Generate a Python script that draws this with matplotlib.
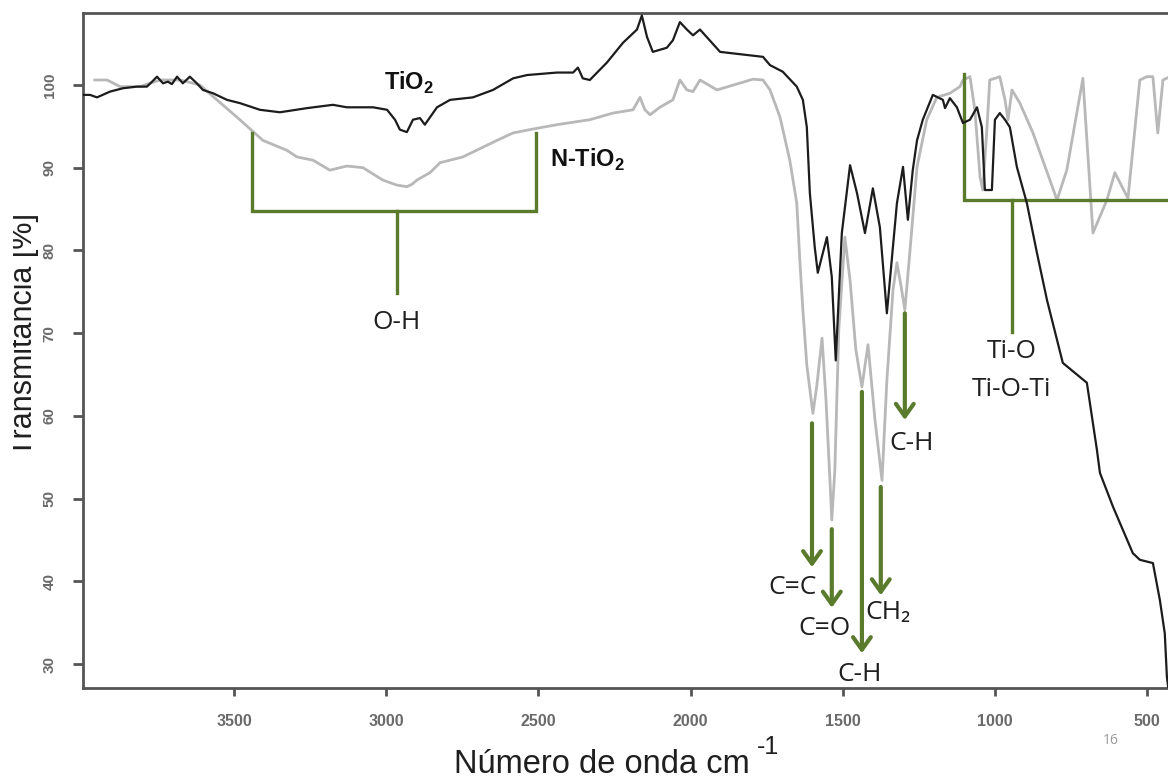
import matplotlib
matplotlib.use("Agg")
import matplotlib.pyplot as plt
from matplotlib import font_manager
from matplotlib.transforms import Bbox, TransformedBbox

# FTIR spectra: wavenumber (cm-1) vs transmittance (%)
tio2_wn = [3996, 3973, 3950, 3907, 3865, 3819, 3786, 3769, 3753, 3733, 3717, 3704,
           3687, 3668, 3645, 3622, 3602, 3569, 3523, 3480, 3415, 3349, 3260, 3175,
           3129, 3086, 3043, 2997, 2971, 2955, 2932, 2912, 2889, 2873, 2833, 2790,
           2715, 2649, 2583, 2537, 2439, 2386, 2370, 2354, 2331, 2275, 2222, 2176,
           2160, 2143, 2124, 2078, 2058, 2035, 2012, 1992, 1969, 1903, 1762, 1739,
           1697, 1651, 1631, 1618, 1608, 1592, 1582, 1552, 1536, 1523, 1503, 1476,
           1453, 1427, 1401, 1378, 1355, 1322, 1302, 1286, 1270, 1256, 1237, 1204,
           1171, 1164, 1148, 1125, 1105, 1082, 1059, 1043, 1033, 1010, 1000, 984,
           967, 951, 928, 895, 862, 829, 777, 698, 665, 655, 612, 547, 524, 481,
           458, 442, 435, 425]
tio2_t = [98.8, 98.8, 98.5, 99.2, 99.6, 99.8, 99.8, 100.4, 101.0, 100.2, 100.4, 100.1,
          101.0, 100.2, 101.0, 100.2, 99.4, 99.0, 98.2, 97.8, 97.0, 96.7, 97.2, 97.6,
          97.3, 97.3, 97.3, 97.0, 95.8, 94.6, 94.3, 95.8, 96.0, 95.2, 97.3, 98.2,
          98.5, 99.4, 100.8, 101.2, 101.5, 101.5, 102.1, 100.8, 100.6, 102.7, 105.1, 106.7,
          108.4, 105.8, 104.0, 104.5, 105.4, 107.6, 106.7, 106.0, 106.7, 104.0, 103.4, 102.4,
          101.6, 99.8, 98.2, 94.9, 86.9, 80.4, 77.3, 81.6, 76.8, 66.7, 82.1, 90.3,
          86.9, 82.1, 87.5, 82.8, 72.4, 85.7, 90.1, 83.7, 89.7, 93.3, 95.8, 98.8,
          98.2, 97.2, 98.4, 97.3, 95.4, 95.8, 97.3, 94.9, 87.3, 87.3, 95.8, 96.6,
          95.8, 94.9, 90.1, 85.7, 79.7, 74.0, 66.4, 64.0, 55.9, 53.1, 49.0, 43.4, 42.6, 42.2,
          37.7, 33.7, 28.4, 25.6]

ntio2_wn = [3957, 3917, 3874, 3809, 3743, 3677, 3612, 3556, 3490, 3405, 3326, 3293,
            3240, 3185, 3129, 3076, 3011, 2965, 2932, 2915, 2899, 2856, 2823, 2748,
            2636, 2583, 2528, 2439, 2331, 2255, 2189, 2166, 2150, 2133, 2101, 2058,
            2035, 2012, 1992, 1969, 1913, 1795, 1762, 1739, 1706, 1674, 1651, 1641,
            1631, 1618, 1598, 1585, 1568, 1555, 1542, 1536, 1526, 1513, 1493, 1476,
            1457, 1437, 1417, 1394, 1371, 1355, 1335, 1322, 1309, 1296, 1279, 1256,
            1224, 1191, 1148, 1115, 1105, 1082, 1066, 1049, 1040, 1026, 1017, 984,
            967, 957, 944, 918, 875, 796, 764, 711, 678, 632, 606, 563, 524, 501,
            481, 465, 448, 425]
ntio2_t = [100.6, 100.6, 99.8, 99.8, 100.6, 100.6, 100.0, 98.2, 96.1, 93.3, 92.1, 91.3,
           90.9, 89.7, 90.2, 90.0, 88.5, 87.9, 87.7, 88.0, 88.5, 89.4, 90.6, 91.3,
           93.3, 94.2, 94.6, 95.2, 95.8, 96.6, 97.0, 98.5, 97.0, 96.4, 97.3, 98.2,
           100.6, 99.4, 99.2, 100.6, 99.4, 100.7, 100.6, 99.4, 96.1, 90.9, 85.7, 78.8,
           72.8, 66.1, 60.3, 63.7, 69.4, 61.9, 52.2, 47.4, 53.4, 70.4, 81.6, 76.4,
           68.0, 63.5, 68.6, 59.5, 52.2, 64.3, 75.2, 78.5, 75.8, 72.8, 80.0, 90.1,
           95.8, 98.5, 99.0, 99.8, 100.6, 101.0, 97.0, 88.9, 87.3, 94.9, 100.6, 101.0,
           98.2, 95.8, 99.4, 97.8, 94.2, 86.1, 89.7, 100.8, 82.1, 86.1, 89.4, 86.3, 100.6, 101.0,
           101.0, 94.2, 100.6, 101.0]

x_ticks = [3500, 3000, 2500, 2000, 1500, 1000, 500]
y_ticks = [30, 40, 50, 60, 70, 80, 90, 100]

# assigned bands: (label, wavenumber, arrow start %T, arrow end %T, label x, label %T)
bands = [
    ("C=C", 1601, 59.1, 41.7, 1664, 39.3),
    ("C=O", 1536, 46.3, 36.8, 1559, 34.3),
    ("C-H", 1437, 62.9, 31.3, 1444, 28.7),
    ("CH\u2082", 1375, 51.4, 38.3, 1352, 36.2),
    ("C-H", 1296, 72.4, 59.5, 1273, 56.7),
]

green = "#5a7a2c"
axis_grey = "#555555"

names = {f.name for f in font_manager.fontManager.ttflist}
has_narrow = "Liberation Sans Narrow" in names
narrow = "Liberation Sans Narrow" if has_narrow else "Liberation Sans"
label_font = ["Open Sans", "DejaVu Sans"]

fig = plt.figure(figsize=(11.68, 7.78), dpi=100)
W, H = 1168, 778
ax = fig.add_axes([83 / W, (H - 688) / H, (1180 - 83) / W, (688 - 13) / H])

ax.plot(ntio2_wn, ntio2_t, color="#b8b8b8", lw=2.0, zorder=2)
ax.plot(tio2_wn, tio2_t, color="#1c1c1c", lw=1.6, zorder=3)

ax.set_xlim(3996, 392)
ax.set_ylim(27.1, 108.7)
ax.set_xticks(x_ticks)
ax.set_yticks(y_ticks)
ax.set_xticklabels([str(v) for v in x_ticks], family="Liberation Sans",
                   fontsize=11.5, fontweight="bold", color="#6a6a6a")
ax.set_yticklabels([str(v) for v in y_ticks], family="Liberation Sans",
                   fontsize=11, fontweight="bold", color="#6a6a6a",
                   rotation=90, va="center")
ax.tick_params(axis="x", length=6, width=2, color=axis_grey, pad=13)
ax.tick_params(axis="y", length=7, width=2, color=axis_grey, pad=12)
for side in ["left", "bottom", "top"]:
    ax.spines[side].set_color(axis_grey)
    ax.spines[side].set_linewidth(2)
ax.spines["right"].set_visible(False)

# sample names
ax.text(2925, 99.4, r"TiO$_\mathregular{2}$", family=narrow, fontweight="bold",
        fontsize=17, ha="center", va="baseline", color="#111111")
ax.text(2337, 90.1, r"N-TiO$_\mathregular{2}$", family=narrow, fontweight="bold",
        fontsize=17, ha="center", va="baseline", color="#111111")

# O-H bracket
ax.plot([3441, 3441, 2508, 2508], [94.2, 84.8, 84.8, 94.2], color=green, lw=2.4,
        solid_joinstyle="miter")
ax.plot([2965, 2965], [84.8, 74.8], color=green, lw=2.4)
ax.text(2965, 71.3, "O-H", family=label_font, fontsize=19, ha="center", va="center",
        color="#1f1f1f")

# Ti-O bracket, open towards low wavenumbers
ax.plot([1102, 1102, 300], [101.3, 86.1, 86.1], color=green, lw=2.4,
        solid_joinstyle="miter", clip_on=False)
ax.plot([944, 944], [86.1, 70.1], color=green, lw=2.4)
ax.text(944, 67.8, "Ti-O", family=label_font, fontsize=19, ha="center", va="center",
        color="#1f1f1f")
ax.text(944, 63.2, "Ti-O-Ti", family=label_font, fontsize=19, ha="center", va="center",
        color="#1f1f1f")

for name, wn, t0, t1, lx, ly in bands:
    ax.annotate("", xy=(wn, t1), xytext=(wn, t0),
                arrowprops=dict(arrowstyle="->, head_length=0.45, head_width=0.32",
                                color=green, lw=3, mutation_scale=20,
                                shrinkA=0, shrinkB=0))
    ax.text(lx, ly, name, family=label_font, fontsize=19, ha="center", va="center",
            color="#1f1f1f")

ylab = fig.text(32 / W, (H - 335) / H, "Transmitancia [%]", family=narrow,
                fontsize=24 if has_narrow else 22,
                rotation=90, rotation_mode="anchor", ha="center", va="baseline",
                color="#1f1f1f")
ylab.set_clip_box(TransformedBbox(Bbox([[13 / W, 0], [1, 1]]), fig.transFigure))
ylab.set_clip_on(True)

fig.text(750 / W, 5 / H, "Número de onda cm", family="Liberation Sans",
         fontsize=23.5, ha="right", va="baseline", color="#1f1f1f")
fig.text(757 / W, (H - 754) / H, "-1", family="Liberation Sans",
         fontsize=18, ha="left", va="baseline", color="#1f1f1f")
fig.text(1111 / W, (H - 741) / H, "16", family=label_font, fontsize=10,
         ha="center", va="center", color="#9a9a9a")

fig.savefig("out.png", dpi=100, facecolor="white")
